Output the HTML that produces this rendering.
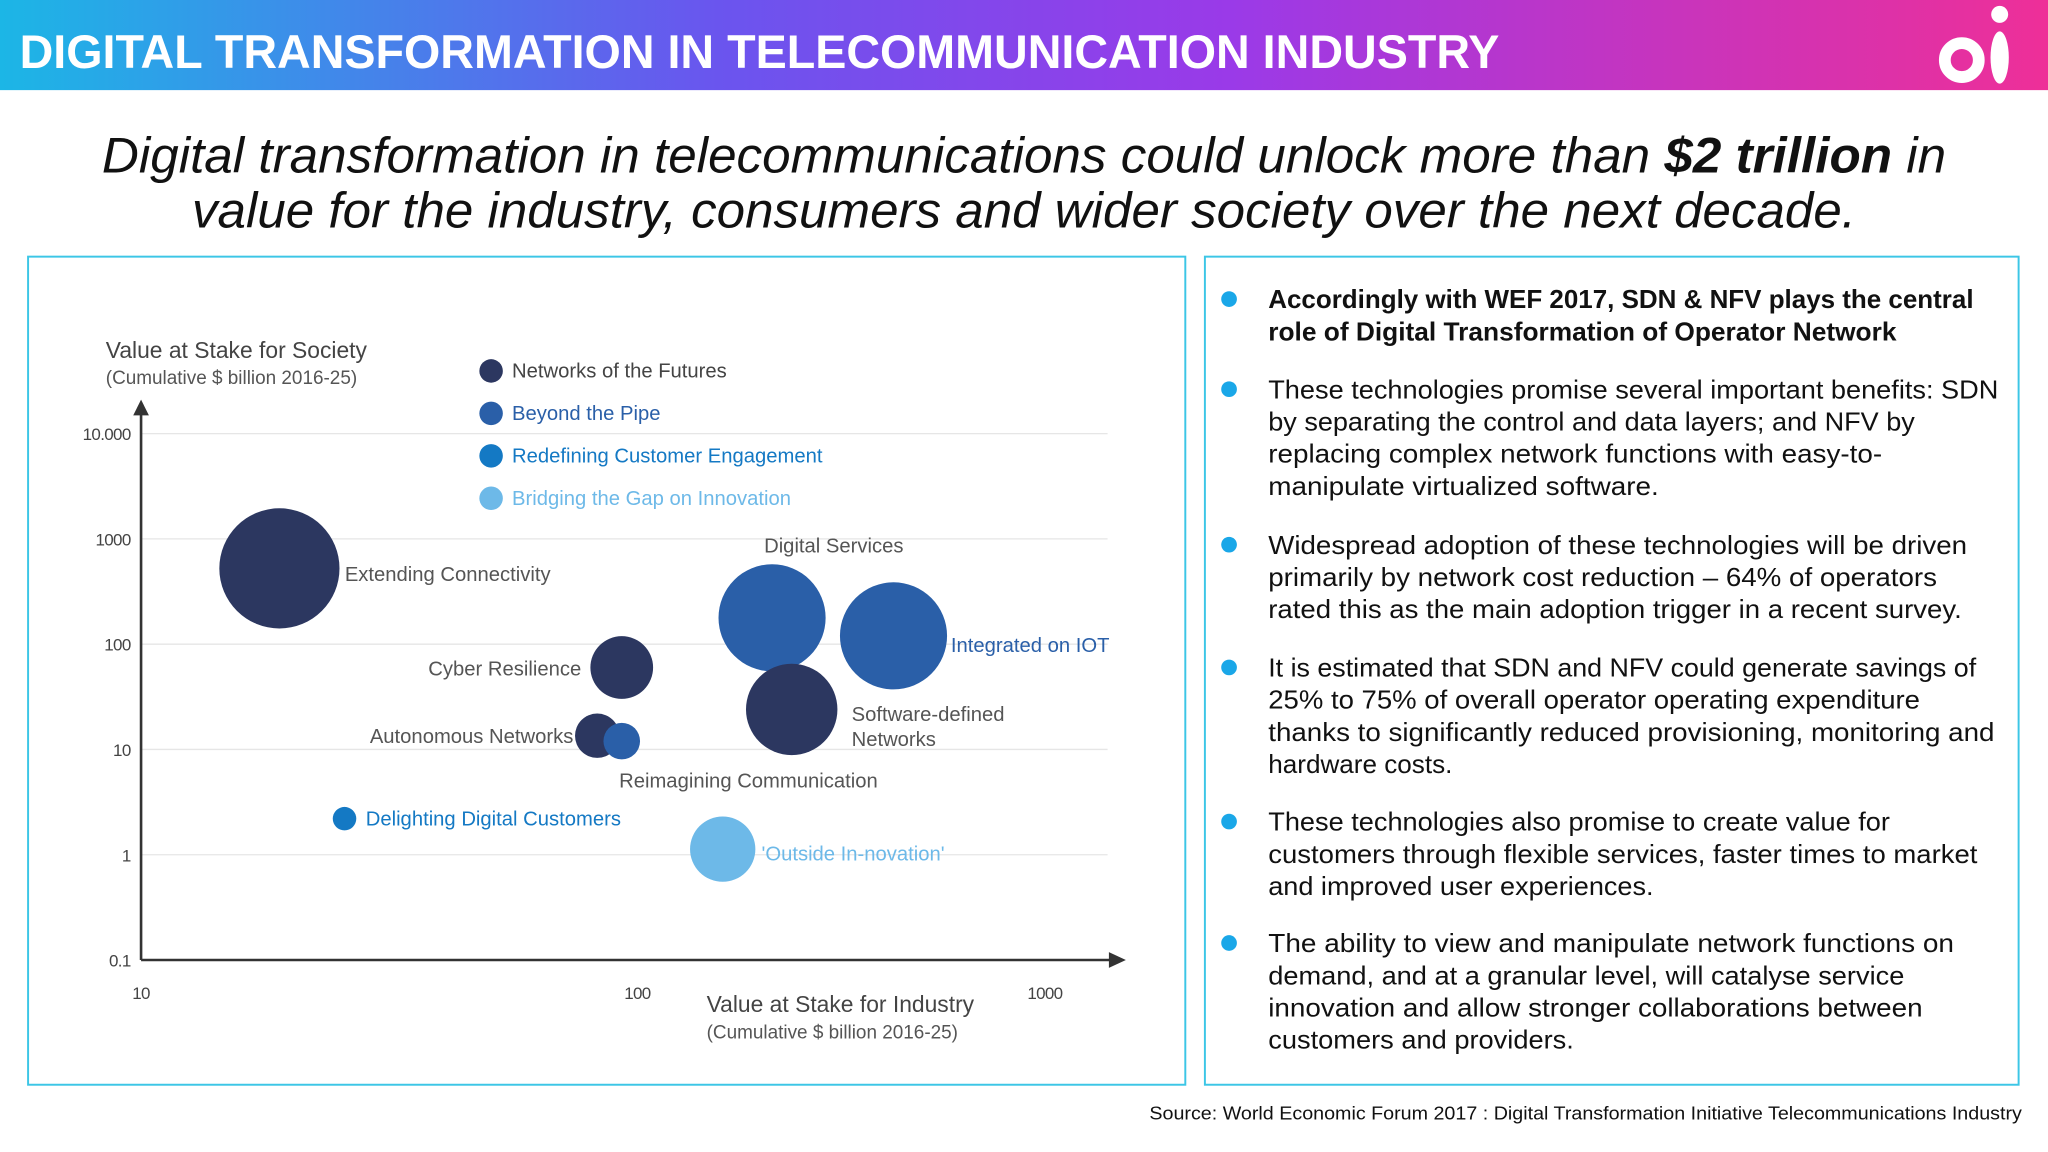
<!DOCTYPE html>
<html><head><meta charset="utf-8"><style>
html,body{margin:0;padding:0;background:#fff;}
svg{display:block;}
</style></head><body>
<svg width="2048" height="1152" viewBox="0 0 1568 882" xmlns="http://www.w3.org/2000/svg" font-family="Liberation Sans, DejaVu Sans, sans-serif">
<defs>
<linearGradient id="hg" x1="0" x2="1" y1="0" y2="0">
<stop offset="0" stop-color="#1cb6e6"/><stop offset="0.35" stop-color="#6a55ee"/><stop offset="0.6" stop-color="#9a3ae8"/><stop offset="1" stop-color="#ee2f98"/>
</linearGradient>
</defs>
<g>
<rect x="0" y="0" width="1568" height="69" fill="url(#hg)"/>
<text x="15" y="52" font-size="36" font-weight="bold" fill="#fff" textLength="1133" lengthAdjust="spacingAndGlyphs">DIGITAL TRANSFORMATION IN TELECOMMUNICATION INDUSTRY</text>
<g>
<circle cx="1502" cy="46" r="13" fill="none" stroke="#fff" stroke-width="9"/>
<ellipse cx="1531" cy="44" rx="7" ry="20" fill="#fff"/>
<circle cx="1531" cy="11" r="6.5" fill="#fff"/>
</g>
</g>
<g font-style="italic" font-size="38" fill="#111">
<text x="78" y="132" textLength="1412" lengthAdjust="spacingAndGlyphs">Digital transformation in telecommunications could unlock more than <tspan font-weight="bold">$2 trillion</tspan> in</text>
<text x="147" y="174" textLength="1274" lengthAdjust="spacingAndGlyphs">value for the industry, consumers and wider society over the next decade.</text>
</g>
<rect x="21.5" y="196.5" width="886" height="634" fill="none" stroke="#3cc6e6" stroke-width="1.5"/>
<rect x="922.5" y="196.5" width="623" height="634" fill="none" stroke="#3cc6e6" stroke-width="1.5"/>
<g id="chart"></g>
<g id="bullets" font-size="20" fill="#111"></g>
<text x="880" y="857" font-size="14" fill="#111" textLength="668" lengthAdjust="spacingAndGlyphs">Source: World Economic Forum 2017 : Digital Transformation Initiative Telecommunications Industry</text>
</svg>
<script>
const names=["Extending Connectivity","Cyber Resilience","Autonomous Networks","Reimagining Communication","Digital Services","Integrated on IOT","Software-defined Networks","Delighting Digital Customers","'Outside In-novation'"];
const industry=[19,93,83,93,210,410,234,25.7,160];
const society=[525,60,13.5,12,178,120,24,2.2,1.13];
const sizes=[46,24,17,14,41,41,35,9,25];
const groups=[0,0,0,1,1,1,0,2,3];
const groupNames=["Networks of the Futures","Beyond the Pipe","Redefining Customer Engagement","Bridging the Gap on Innovation"];
const yTicks=[0.1,1,10,100,1000,10000];
const yTickLabels=["0.1","1","10","100","1000","10.000"];
const xTicks=[10,100,1000];
const xTickLabels=["10","100","1000"];

const colors=["#2c3760","#2a5fa8","#1479c4","#6db9e8"];
const NS="http://www.w3.org/2000/svg";
const g=document.getElementById('chart');
function el(t,a,p){const e=document.createElementNS(NS,t);for(const k in a)e.setAttribute(k,a[k]);(p||g).appendChild(e);return e;}
function xs(v){const l=Math.log10(v);return l<=2?108+(l-1)*380:488+(l-2)*320;}
function ys(v){return 735-(Math.log10(v)+1)*80.6;}
yTicks.forEach((t,i)=>{
 if(i>0){const ln=el('line',{x1:108,x2:848,y1:ys(t),y2:ys(t),stroke:'#e6e6e6','stroke-width':1});
 }
 const tx=el('text',{x:100,y:ys(t)+5,'font-size':13,'text-anchor':'end',fill:'#444','letter-spacing':'-0.5'});
 
 tx.textContent=yTickLabels[i];
});
xTicks.forEach((t,i)=>{
 const tx=el('text',{x:xs(t)+(i==2?-8:0),y:765,'font-size':13,'text-anchor':'middle',fill:'#444','letter-spacing':'-0.5'});
 
 tx.textContent=xTickLabels[i];
});
const ya=el('path',{d:'M108 735 L108 314',stroke:'#333','stroke-width':2,fill:'none'});

el('path',{d:'M102 318 L108 306 L114 318 Z',fill:'#333'});
const xa=el('path',{d:'M108 735 L852 735',stroke:'#333','stroke-width':2,fill:'none'});

el('path',{d:'M849 729 L862 735 L849 741 Z',fill:'#333'});
function txt(x,y,s,fs,fill,name,anchor){const t=el('text',{x:x,y:y,'font-size':fs,fill:fill,'text-anchor':anchor||'start'});t.textContent=s;return t;}
txt(81,274,"Value at Stake for Society",17.5,"#444","y-axis-title");
txt(81,294,"(Cumulative $ billion 2016-25)",14.5,"#555","y-axis-subtitle");
txt(541,775,"Value at Stake for Industry",17.5,"#444","x-axis-title");
txt(541,795,"(Cumulative $ billion 2016-25)",14.5,"#555","x-axis-subtitle");
groupNames.forEach((n,i)=>{
 const c=el('circle',{cx:376,cy:284+i*32.5,r:9,fill:colors[i]});
 
 txt(392,289+i*32.5,n,15.5,i==0?'#444':colors[i],'legend-entry');
});
names.forEach((n,i)=>{
 const c=el('circle',{cx:xs(industry[i]),cy:ys(society[i]),r:sizes[i],fill:colors[groups[i]]});
 
});
const lab=[[264,445,'start'],[445,517,'end'],[439,569,'end'],[474,603,'start'],[585,423,'start'],[728,499,'start'],[652,552,'start'],[280,632,'start'],[583,659,'start']];
names.forEach((n,i)=>{
 const [x,y,a]=lab[i];const col=i==5?'#2a5fa8':i==7?'#1479c4':i==8?'#6db9e8':'#555';
 if(i==6){txt(x,y,"Software-defined",15.5,col,'bubble-label',a);txt(x,y+19,"Networks",15.5,col,'bubble-label',a);}
 else txt(x,y,n,15.5,col,'bubble-label',a);
});
const B=document.getElementById('bullets');
const paras=[
 {bold:true,y:229,lines:[["Accordingly with WEF 2017,  SDN & NFV plays the central",1511],["role of Digital Transformation of Operator Network",1452]]},
 {y:298,lines:[["These technologies promise several important benefits: SDN",1530],["by separating the control and data layers; and NFV by",1466],["replacing complex network functions with easy-to-",1441],["manipulate virtualized software.",1270]]},
 {y:417,lines:[["Widespread adoption of these technologies will be driven",1506],["primarily by network cost reduction – 64% of operators",1483],["rated this as the main adoption trigger in a recent survey.",1502]]},
 {y:511,lines:[["It is estimated that SDN and NFV could generate savings of",1513],["25% to 75% of overall operator operating expenditure",1470],["thanks to significantly reduced provisioning, monitoring and",1527],["hardware costs.",1112]]},
 {y:629,lines:[["These technologies also promise to create value for",1447],["customers through flexible services, faster times to market",1514],["and improved user experiences.",1266]]},
 {y:722,lines:[["The ability to view and manipulate network functions on",1496],["demand, and at a granular level, will catalyse service",1458],["innovation and allow stronger collaborations between",1472],["customers and providers.",1205]]}
];
paras.forEach(p=>{
 const d=el('circle',{cx:941,cy:p.y,r:6,fill:'#1aa7e8'},B);
 
 p.lines.forEach((l,j)=>{
  const t=el('text',{x:971,y:p.y+7+j*24.6,textLength:l[1]-971,lengthAdjust:'spacingAndGlyphs'},B);
  if(p.bold)t.setAttribute('font-weight','bold');
  
  t.textContent=l[0];
 });
});
</script>
</body></html>
